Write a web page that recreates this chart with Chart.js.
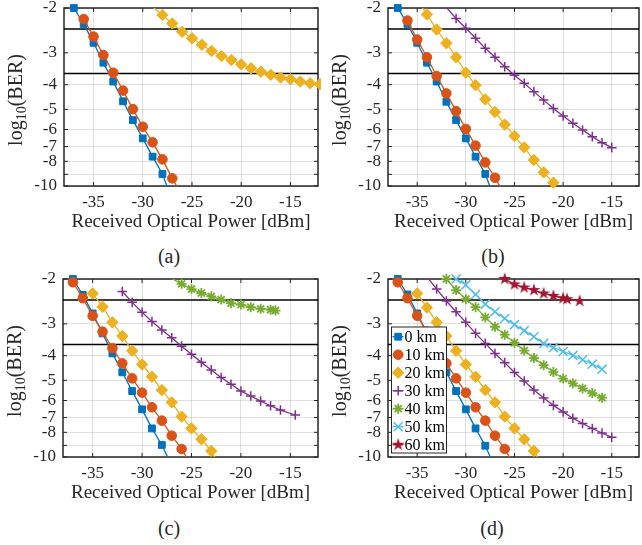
<!DOCTYPE html>
<html>
<head>
<meta charset="utf-8">
<title>BER vs received optical power</title>
<script src="https://cdn.jsdelivr.net/npm/chart.js"></script>
<style>
  body { margin: 0; background: #fff; }
  #fig { position: relative; width: 642px; height: 545px; font-family: 'Liberation Serif', 'Times New Roman', serif; color: #262626; }
  #fig canvas { position: absolute; }
  .cap { position: absolute; width: 60px; text-align: center; font-size: 20px; line-height: 20px; }
</style>
</head>
<body>
<div id="fig">
  <canvas id="chartA" width="321" height="235" style="left:0;top:0"></canvas>
  <canvas id="chartB" width="321" height="235" style="left:321px;top:0"></canvas>
  <canvas id="chartC" width="321" height="235" style="left:0;top:271px"></canvas>
  <canvas id="chartD" width="321" height="235" style="left:321px;top:271px"></canvas>
  <div class="cap" style="left:139px;top:246px">(a)</div>
  <div class="cap" style="left:463px;top:246px">(b)</div>
  <div class="cap" style="left:139px;top:518px">(c)</div>
  <div class="cap" style="left:462px;top:518px">(d)</div>
</div>
<script>
// axis ticks and FEC threshold lines, values of log10(BER)
const X_TICKS = [-35, -30, -25, -20, -15];
const Y_TICKS = [-2, -3, -4, -5, -6, -7, -8, -9, -10];
const FEC_LIMITS = [-2.42, -3.62];
const LABELS = ['0 km', '10 km', '20 km', '30 km', '40 km', '50 km', '60 km'];

// (a)
const a_p0 = [-37, -36, -35, -34, -33, -32, -31, -30, -29, -28, -27];
const a_ber0 = [-2.00, -2.31, -2.74, -3.28, -3.89, -4.65, -5.51, -6.50, -7.67, -8.97, -11.4];
const a_p10 = [-36, -35, -34, -33, -32, -31, -30, -29, -28, -27, -26];
const a_ber10 = [-2.21, -2.59, -3.06, -3.59, -4.22, -4.99, -5.85, -6.74, -7.86, -9.33, -10.9];
const a_p20 = [-29, -28, -27, -26, -25, -24, -23, -22, -21, -20, -19, -18, -17, -16, -15, -14, -13, -12];
const a_ber20 = [-1.98, -2.13, -2.30, -2.48, -2.63, -2.79, -2.95, -3.09, -3.20, -3.33, -3.45, -3.56, -3.66, -3.75, -3.81, -3.89, -3.95, -3.98];

// (b)
const b_p0 = [-37, -36, -35, -34, -33, -32, -31, -30, -29, -28, -27];
const b_ber0 = [-2.00, -2.31, -2.74, -3.28, -3.89, -4.67, -5.51, -6.50, -7.67, -8.97, -11.4];
const b_p10 = [-36, -35, -34, -33, -32, -31, -30, -29, -28, -27, -26];
const b_ber10 = [-2.24, -2.66, -3.12, -3.70, -4.33, -5.08, -5.97, -6.94, -8.08, -9.28, -10.8];
const b_p20 = [-35, -34, -33, -32, -31, -30, -29, -28, -27, -26, -25, -24, -23, -22, -21, -20];
const b_ber20 = [-1.86, -2.12, -2.43, -2.75, -3.12, -3.59, -4.02, -4.57, -5.12, -5.74, -6.36, -7.05, -7.91, -8.84, -9.70, -11.0];
const b_p30 = [-32, -31, -30, -29, -28, -27, -26, -25, -24, -23, -22, -21, -20, -19, -18, -17, -16, -15];
const b_ber30 = [-1.99, -2.20, -2.40, -2.63, -2.88, -3.12, -3.40, -3.67, -3.95, -4.26, -4.60, -4.96, -5.31, -5.67, -6.03, -6.40, -6.76, -7.07];

// (c)
const c_p0 = [-37, -36, -35, -34, -33, -32, -31, -30, -29, -28, -27];
const c_ber0 = [-2.00, -2.31, -2.73, -3.27, -3.92, -4.65, -5.51, -6.50, -7.72, -8.97, -10.8];
const c_p10 = [-37, -36, -35, -34, -33, -32, -31, -30, -29, -28, -27, -26, -25];
const c_ber10 = [-2.06, -2.38, -2.79, -3.22, -3.74, -4.29, -4.91, -5.59, -6.38, -7.20, -8.25, -9.30, -10.8];
const c_p20 = [-35, -34, -33, -32, -31, -30, -29, -28, -27, -26, -25, -24, -23, -22];
const c_ber20 = [-2.28, -2.57, -2.96, -3.35, -3.83, -4.33, -4.84, -5.46, -6.10, -6.94, -7.72, -8.52, -9.47, -11.1];
const c_p30 = [-32, -31, -30, -29, -28, -27, -26, -25, -24, -23, -22, -21, -20, -19, -18, -17, -16, -14.5];
const c_ber30 = [-2.24, -2.47, -2.70, -2.94, -3.17, -3.40, -3.67, -3.95, -4.25, -4.55, -4.87, -5.18, -5.51, -5.76, -6.03, -6.29, -6.54, -6.84];
const c_p40 = [-27, -26, -25, -24, -23, -22, -21, -20, -19, -18, -17, -16.5];
const c_ber40 = [-1.99, -2.09, -2.19, -2.27, -2.34, -2.41, -2.49, -2.52, -2.58, -2.62, -2.64, -2.66];

// (d)
const d_p0 = [-37, -36, -35, -34, -33, -32, -31, -30, -29, -28, -27];
const d_ber0 = [-2.00, -2.30, -2.73, -3.27, -3.92, -4.65, -5.51, -6.50, -7.72, -9.03, -11.0];
const d_p10 = [-37, -36, -35, -34, -33, -32, -31, -30, -29, -28, -27, -26, -25];
const d_ber10 = [-2.06, -2.38, -2.79, -3.22, -3.74, -4.29, -4.91, -5.59, -6.38, -7.20, -8.25, -9.30, -10.8];
const d_p20 = [-35, -34, -33, -32, -31, -30, -29, -28, -27, -26, -25, -24, -23, -22];
const d_ber20 = [-2.28, -2.59, -2.96, -3.35, -3.83, -4.33, -4.84, -5.46, -6.10, -6.94, -7.72, -8.52, -9.47, -11.0];
const d_p30 = [-34, -33, -32, -31, -30, -29, -28, -27, -26, -25, -24, -23, -22, -21, -20, -19, -18, -17, -16, -15];
const d_ber30 = [-1.96, -2.19, -2.44, -2.69, -2.96, -3.27, -3.58, -3.92, -4.26, -4.66, -5.03, -5.46, -5.87, -6.27, -6.65, -7.04, -7.39, -7.73, -8.05, -8.37];
const d_p40 = [-32, -31, -30, -29, -28, -27, -26, -25, -24, -23, -22, -21, -20, -19, -18, -17, -16];
const d_ber40 = [-2.00, -2.21, -2.40, -2.58, -2.83, -3.08, -3.31, -3.56, -3.82, -4.09, -4.36, -4.64, -4.92, -5.14, -5.38, -5.61, -5.85];
const d_p50 = [-31, -30, -29, -28, -27, -26, -25, -24, -23, -22, -21, -20, -19, -18, -17, -16];
const d_ber50 = [-2.00, -2.11, -2.30, -2.51, -2.69, -2.86, -3.02, -3.19, -3.37, -3.58, -3.72, -3.85, -3.99, -4.15, -4.32, -4.52];
const d_p60 = [-26, -25, -24, -23, -22, -21, -20, -19.6, -18.3];
const d_ber60 = [-2.00, -2.10, -2.16, -2.21, -2.28, -2.33, -2.38, -2.40, -2.44];

const SERIF = "'Liberation Serif', 'Times New Roman', serif";
const TEXT_COLOR = '#262626';
const GRID_COLOR = 'rgba(38,38,38,0.15)';
Chart.defaults.font.family = SERIF;

function pentagram(color, R) {
  const c = document.createElement('canvas');
  const s = Math.ceil(2 * R + 2);
  c.width = s; c.height = s;
  const g = c.getContext('2d');
  g.beginPath();
  for (let i = 0; i < 10; i++) {
    const r = i % 2 ? R * 0.382 : R;
    const ang = -Math.PI / 2 + i * Math.PI / 5;
    const px = s / 2 + r * Math.cos(ang), py = s / 2 + r * Math.sin(ang);
    if (i) g.lineTo(px, py); else g.moveTo(px, py);
  }
  g.closePath();
  g.fillStyle = color;
  g.fill();
  return c;
}

// marker look of each distance, same order as LABELS
const STYLES = [
  { color: '#0072BD', pointStyle: 'rect', radius: 4.8, bw: 1 },
  { color: '#D95319', pointStyle: 'circle', radius: 4.8, bw: 1 },
  { color: '#EDB120', pointStyle: 'rectRot', radius: 5.7, bw: 1 },
  { color: '#7E2F8E', pointStyle: 'cross', radius: 4.8, bw: 1.5 },
  { color: '#77AC30', pointStyle: 'star', radius: 5, bw: 1.8 },
  { color: '#4DBEEE', pointStyle: 'crossRot', radius: 6.4, bw: 1.5 },
  { color: '#A2142F', pointStyle: pentagram('#A2142F', 6.8), radius: 6, bw: 1 }
];

function toPoints(pow, ber) {
  return pow.map((p, i) => ({ x: p, y: -ber[i] }));
}

function buildDatasets(series) {
  const sets = [];
  series.forEach(([pow, ber], k) => {
    const st = STYLES[k];
    // the line, clipped at the axes box
    sets.push({
      data: toPoints(pow, ber), borderColor: st.color, borderWidth: 1.3,
      pointRadius: 0, pointHoverRadius: 0, clip: 0, order: -2 * k, tension: 0
    });
    // the markers, not clipped, hidden when outside the y range
    sets.push({
      data: toPoints(pow, ber), showLine: false, clip: false, order: -2 * k - 1,
      pointStyle: st.pointStyle, pointBackgroundColor: st.color, pointBorderColor: st.color,
      pointBorderWidth: st.bw, pointHoverRadius: 0,
      pointRadius: ctx => {
        const v = ctx.raw ? ctx.raw.y : 5;
        return (v < 1.995 || v > 10.005) ? 0 : st.radius;
      }
    });
  });
  return sets;
}

const axesPlugin = {
  id: 'axesBox',
  beforeDatasetsDraw(chart) {
    const { ctx, chartArea: a, scales: { x, y } } = chart;
    ctx.save();
    ctx.strokeStyle = TEXT_COLOR;
    ctx.lineWidth = 1;
    ctx.beginPath();
    X_TICKS.forEach(v => {
      const px = x.getPixelForValue(v);
      ctx.moveTo(px, a.bottom); ctx.lineTo(px, a.bottom - 4);
      ctx.moveTo(px, a.top); ctx.lineTo(px, a.top + 4);
    });
    Y_TICKS.forEach(v => {
      const py = y.getPixelForValue(-v);
      ctx.moveTo(a.left, py); ctx.lineTo(a.left + 4, py);
      ctx.moveTo(a.right, py); ctx.lineTo(a.right - 4, py);
    });
    ctx.stroke();
    ctx.lineWidth = 1.5;
    ctx.strokeRect(a.left, a.top, a.right - a.left, a.bottom - a.top);
    ctx.strokeStyle = '#000';
    FEC_LIMITS.forEach(v => {
      const py = y.getPixelForValue(-v);
      ctx.beginPath(); ctx.moveTo(a.left, py); ctx.lineTo(a.right, py); ctx.stroke();
    });
    ctx.restore();
  },
  afterDraw(chart) {
    // y title with subscript: log10(BER)
    const { ctx, chartArea: a } = chart;
    const big = '20px ' + SERIF, small = '14px ' + SERIF;
    ctx.save();
    ctx.fillStyle = TEXT_COLOR;
    ctx.font = big;
    const w1 = ctx.measureText('log').width, w3 = ctx.measureText('(BER)').width;
    ctx.font = small;
    const w2 = ctx.measureText('10').width;
    ctx.translate(a.left - 42, (a.top + a.bottom) / 2 + 3);
    ctx.rotate(-Math.PI / 2);
    ctx.textBaseline = 'alphabetic';
    ctx.textAlign = 'left';
    let cx = -(w1 + w2 + w3) / 2;
    ctx.font = big; ctx.fillText('log', cx, 0); cx += w1;
    ctx.font = small; ctx.fillText('10', cx, 4); cx += w2;
    ctx.font = big; ctx.fillText('(BER)', cx, 0);
    ctx.restore();
  }
};

const legendPlugin = {
  id: 'boxLegend',
  afterDraw(chart) {
    const { ctx, chartArea: a } = chart;
    const left = a.left + 3.5, h = 126, w = 55;
    const top = a.bottom - 4 - h;
    ctx.save();
    ctx.fillStyle = '#fff';
    ctx.fillRect(left, top, w, h);
    ctx.strokeStyle = TEXT_COLOR;
    ctx.lineWidth = 1;
    ctx.strokeRect(left, top, w, h);
    LABELS.forEach((lab, i) => {
      const st = STYLES[i];
      const cy = top + 9.7 + i * 18;
      ctx.strokeStyle = st.color;
      ctx.fillStyle = st.color;
      ctx.lineWidth = 1.3;
      ctx.beginPath(); ctx.moveTo(left + 1, cy); ctx.lineTo(left + 12, cy); ctx.stroke();
      ctx.lineWidth = st.bw;
      Chart.helpers.drawPoint(ctx, { pointStyle: st.pointStyle, radius: st.radius, borderWidth: st.bw, rotation: 0 }, left + 6.7, cy);
      ctx.fillStyle = '#000';
      ctx.font = '16px ' + SERIF;
      ctx.textBaseline = 'middle';
      ctx.textAlign = 'left';
      ctx.fillText(lab, left + 13, cy + 1);
    });
    ctx.restore();
  }
};

function makePanel(id, chartLeft, series, withLegend) {
  const plugins = [axesPlugin];
  if (withLegend) plugins.push(legendPlugin);
  return new Chart(document.getElementById(id), {
    type: 'line',
    data: { datasets: buildDatasets(series) },
    plugins: plugins,
    options: {
      responsive: false,
      animation: false,
      events: [],
      layout: { autoPadding: false, padding: { left: 0, top: 8, right: 3, bottom: 0 } },
      plugins: { legend: { display: false }, tooltip: { enabled: false } },
      scales: {
        x: {
          type: 'linear', min: -38, max: -12.2, bounds: 'data',
          afterBuildTicks: ax => { ax.ticks = X_TICKS.map(v => ({ value: v })); },
          afterFit: ax => { ax.height = 49; ax.paddingLeft = 0; ax.paddingRight = 0; },
          ticks: { autoSkip: false, maxRotation: 0, padding: 6, color: TEXT_COLOR, font: { family: SERIF, size: 17 }, callback: v => String(v) },
          grid: { color: GRID_COLOR, drawTicks: false },
          border: { display: false },
          title: {
            display: true, text: 'Received Optical Power [dBm]', color: TEXT_COLOR,
            font: { family: SERIF, size: 19, lineHeight: 1 }, padding: { top: 0, bottom: 3 }
          }
        },
        y: {
          type: 'logarithmic', min: 2, max: 10, reverse: true, bounds: 'data',
          afterBuildTicks: ax => { ax.ticks = Y_TICKS.map(v => ({ value: -v })); },
          afterFit: ax => { ax.width = chartLeft; ax.paddingTop = 0; ax.paddingBottom = 0; },
          ticks: { autoSkip: false, padding: 7, color: TEXT_COLOR, font: { family: SERIF, size: 17 }, callback: v => (v === 9 ? '' : String(-v)) },
          grid: { color: GRID_COLOR, drawTicks: false },
          border: { display: false }
        }
      }
    }
  });
}

makePanel('chartA', 64, [[a_p0, a_ber0], [a_p10, a_ber10], [a_p20, a_ber20]], false);
makePanel('chartB', 67, [[b_p0, b_ber0], [b_p10, b_ber10], [b_p20, b_ber20], [b_p30, b_ber30]], false);
makePanel('chartC', 63, [[c_p0, c_ber0], [c_p10, c_ber10], [c_p20, c_ber20], [c_p30, c_ber30], [c_p40, c_ber40]], false);
makePanel('chartD', 67, [[d_p0, d_ber0], [d_p10, d_ber10], [d_p20, d_ber20], [d_p30, d_ber30], [d_p40, d_ber40], [d_p50, d_ber50], [d_p60, d_ber60]], true);
</script>
</body>
</html>
